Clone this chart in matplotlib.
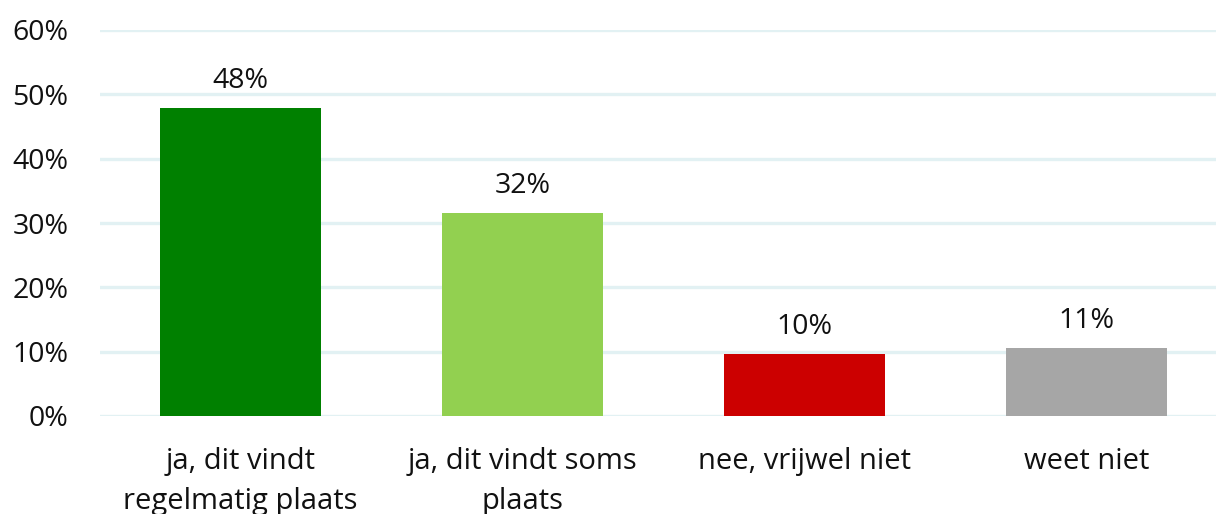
import matplotlib
matplotlib.use("Agg")
import matplotlib.pyplot as plt
from matplotlib.ticker import FuncFormatter

categories = ["ja, dit vindt\nregelmatig plaats", "ja, dit vindt soms\nplaats", "nee, vrijwel niet", "weet niet"]
values = [47.9, 31.6, 9.6, 10.6]
labels = ["48%", "32%", "10%", "11%"]
colors = ["#008000", "#92D050", "#CC0000", "#A6A6A6"]
yticks = [0, 10, 20, 30, 40, 50, 60]

plt.rcParams['font.family'] = ['Open Sans', 'DejaVu Sans']
W, H = 1216, 514
fig = plt.figure(figsize=(W/100, H/100), dpi=100)
left, right = 99.5, 1227.5
top, bottom = 30, 416
ax = fig.add_axes([left/W, 1-bottom/H, (right-left)/W, (bottom-top)/H])

txt = '#111111'
x = list(range(len(categories)))
ax.bar(x, values, width=0.571, color=colors, zorder=3)
for xi, v, lab in zip(x, values, labels):
    ax.annotate(lab, (xi, v), xytext=(0, 14.5), textcoords='offset points',
                ha='center', va='baseline', fontsize=20.5, color=txt)

ax.set_xlim(-0.5, 3.5)
ax.set_ylim(0, 60)
ax.set_yticks(yticks)
ax.yaxis.set_major_formatter(FuncFormatter(lambda v, p: f"{int(v)}%"))
ax.set_xticks(x)
ax.set_xticklabels(categories, linespacing=1.47)
ax.tick_params(axis='both', length=0, labelsize=20.5, labelcolor=txt)
ax.tick_params(axis='x', labelsize=21, pad=22.5)
ax.tick_params(axis='y', pad=22.5)
ax.grid(axis='y', color='#E2F1F3', linewidth=2.4, zorder=0)
for s in ax.spines.values():
    s.set_visible(False)

fig.savefig("out.png", dpi=100)
